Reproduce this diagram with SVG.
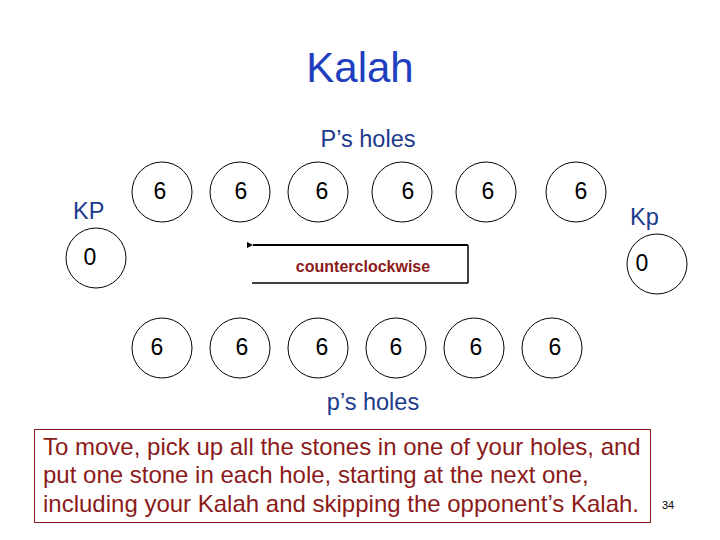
<svg xmlns="http://www.w3.org/2000/svg" width="720" height="540" viewBox="0 0 720 540">
<style>
.hole{fill:none;stroke:#000;stroke-width:1}
.num{font-family:"Liberation Sans",Arial,sans-serif;font-size:23px;fill:#000;text-anchor:middle}
.lbl{font-family:"Liberation Sans",Arial,sans-serif;font-size:23.5px;fill:#1c3a8c}
.red{font-family:"Liberation Sans",Arial,sans-serif;fill:#8b1a1a}
</style>
<defs>
<marker id="ah" markerWidth="8" markerHeight="8" refX="1" refY="4" orient="auto" markerUnits="userSpaceOnUse">
<path d="M7,1 L1,4 L7,7 z" fill="#000"/>
</marker>
</defs>
<rect width="720" height="540" fill="#fff"/>
<text x="360" y="82" font-family="Liberation Sans, Arial, sans-serif" font-size="42" fill="#1f3fbf" text-anchor="middle">Kalah</text>
<text class="lbl" x="368" y="147" text-anchor="middle">P’s holes</text>
<text class="lbl" x="73" y="219">KP</text>
<text class="lbl" x="630" y="225">Kp</text>
<text class="lbl" x="373" y="410" text-anchor="middle">p’s holes</text>

<g id="top1"><circle class="hole" cx="162" cy="192" r="30"/><text class="num" x="160" y="199">6</text></g>
<g id="top2"><circle class="hole" cx="240" cy="192" r="30"/><text class="num" x="241" y="199">6</text></g>
<g id="top3"><circle class="hole" cx="318" cy="192" r="30"/><text class="num" x="322" y="199">6</text></g>
<g id="top4"><circle class="hole" cx="402" cy="192" r="30"/><text class="num" x="408" y="199">6</text></g>
<g id="top5"><circle class="hole" cx="486" cy="192" r="30"/><text class="num" x="488" y="199">6</text></g>
<g id="top6"><circle class="hole" cx="576" cy="192" r="30"/><text class="num" x="581" y="199">6</text></g>

<g id="KP"><circle class="hole" cx="96" cy="258" r="30"/><text class="num" x="90" y="265">0</text></g>
<g id="Kp"><circle class="hole" cx="657" cy="264" r="30"/><text class="num" x="642" y="271">0</text></g>

<g id="bot1"><circle class="hole" cx="162" cy="348" r="30"/><text class="num" x="157" y="355">6</text></g>
<g id="bot2"><circle class="hole" cx="240" cy="348" r="30"/><text class="num" x="242" y="355">6</text></g>
<g id="bot3"><circle class="hole" cx="318" cy="348" r="30"/><text class="num" x="322" y="355">6</text></g>
<g id="bot4"><circle class="hole" cx="396" cy="348" r="30"/><text class="num" x="396" y="355">6</text></g>
<g id="bot5"><circle class="hole" cx="474" cy="348" r="30"/><text class="num" x="476" y="355">6</text></g>
<g id="bot6"><circle class="hole" cx="552" cy="348" r="30"/><text class="num" x="555" y="355">6</text></g>

<g id="connectors" fill="none" stroke="#000">
<path d="M468,245 L253,245" stroke-width="2" marker-end="url(#ah)"/>
<path d="M468,245 L468,283" stroke-width="1.5"/>
<path d="M252,283 L468,283" stroke-width="1.5"/>
</g>
<text class="red" x="363" y="272" font-size="16" font-weight="bold" text-anchor="middle">counterclockwise</text>

<g id="note">
<rect x="34.5" y="429.5" width="616" height="93" fill="none" stroke="#8b1a1a" stroke-width="1"/>
<text class="red" x="43" y="455" font-size="24">To move, pick up all the stones in one of your holes, and</text>
<text class="red" x="43" y="483" font-size="24">put one stone in each hole, starting at the next one,</text>
<text class="red" x="43" y="512" font-size="24">including your Kalah and skipping the opponent’s Kalah.</text>
</g>
<text x="662" y="509" font-family="Liberation Sans, Arial, sans-serif" font-size="11" fill="#000">34</text>
</svg>
